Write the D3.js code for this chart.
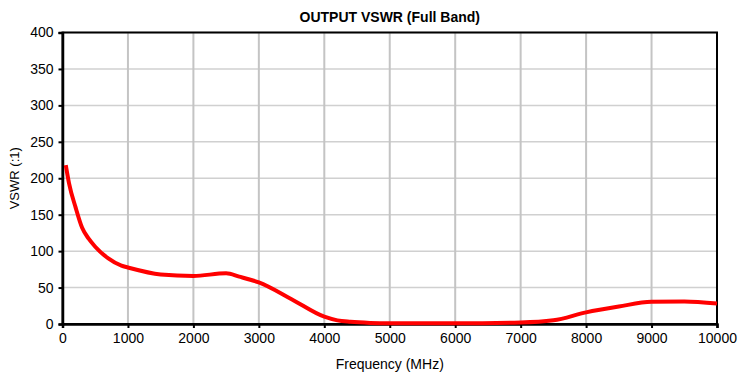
<!DOCTYPE html>
<html>
<head>
<meta charset="utf-8">
<script src="https://cdn.jsdelivr.net/npm/d3@7"></script>
<style>
  body { margin: 0; background: #fff; }
  text { font-family: "Liberation Sans", Arial, sans-serif; fill: #000; }
</style>
</head>
<body>
<div id="chart"></div>
<script>
// Frequency (MHz) and VSWR readings
const freq = [50, 100, 200, 300, 400, 500, 700, 900, 1000, 1500, 2000, 2500, 2700, 3000, 3500, 4000, 4200, 4400, 4700, 5000, 6000, 7000, 7500, 8000, 8500, 9000, 9500, 10000];
const vswr = [218, 193, 160, 132, 117, 106, 90, 80, 77.5, 68, 66, 69.5, 65, 57, 34, 10, 5, 3, 1.5, 1, 1, 2, 5, 16, 24, 30.5, 31, 28];

const xTicks = d3.range(0, 10001, 1000);
const yTicks = d3.range(0, 401, 50);

const data = freq.map((f, i) => ({ f: f, v: vswr[i] }));

const margin = { top: 32.5, right: 23, bottom: 51, left: 62.5 },
    width = 740 - margin.left - margin.right,
    height = 375 - margin.top - margin.bottom;

const svg = d3.select("#chart")
    .append("svg")
    .attr("width", 740)
    .attr("height", 375);

const g = svg.append("g")
    .attr("transform", `translate(${margin.left},${margin.top})`);

const x = d3.scaleLinear().domain([0, 10000]).range([0, width]);
const y = d3.scaleLinear().domain([0, 400]).range([height, 0]);

// gridlines
g.append("g")
    .selectAll("line")
    .data(yTicks.slice(1))
    .enter()
    .append("line")
    .attr("x1", 0).attr("x2", width)
    .attr("y1", d => y(d)).attr("y2", d => y(d))
    .style("stroke", "#d0d0d0")
    .style("stroke-width", 1.5);

g.append("g")
    .selectAll("line")
    .data(xTicks.slice(1))
    .enter()
    .append("line")
    .attr("y1", 0).attr("y2", height)
    .attr("x1", d => x(d)).attr("x2", d => x(d))
    .style("stroke", "#c4c4c4")
    .style("stroke-width", 2);

// frame
g.append("rect")
    .attr("width", width)
    .attr("height", height)
    .style("fill", "none")
    .style("stroke", "#000")
    .style("stroke-width", 2);

// axes
const xAxis = g.append("g")
    .attr("transform", `translate(0,${height})`)
    .call(d3.axisBottom(x).tickValues(xTicks).tickSize(4).tickPadding(5).tickFormat(d3.format("d")));

const yAxis = g.append("g")
    .call(d3.axisLeft(y).tickValues(yTicks).tickSize(4).tickPadding(5));

[xAxis, yAxis].forEach(a => {
    a.select(".domain").style("stroke", "#000").style("stroke-width", 2.5);
    a.selectAll(".tick line").style("stroke", "#000").style("stroke-width", 2);
    a.selectAll(".tick text").style("font-size", "14px").style("font-family", "Liberation Sans, Arial, sans-serif");
});

// line
const line = d3.line()
    .x(d => x(d.f))
    .y(d => y(d.v))
    .curve(d3.curveMonotoneX);

g.append("path")
    .datum(data)
    .attr("d", line)
    .style("fill", "none")
    .style("stroke", "#ff0000")
    .style("stroke-width", 4)
    .style("stroke-linejoin", "round");

// title and labels
svg.append("text")
    .attr("x", margin.left + width / 2)
    .attr("y", 22)
    .style("text-anchor", "middle")
    .style("font-size", "14px")
    .style("font-weight", "bold")
    .text("OUTPUT VSWR (Full Band)");

svg.append("text")
    .attr("x", margin.left + width / 2)
    .attr("y", 369)
    .style("text-anchor", "middle")
    .style("font-size", "14px")
    .text("Frequency (MHz)");

svg.append("text")
    .attr("transform", "rotate(-90)")
    .attr("x", -(margin.top + height / 2))
    .attr("y", 19)
    .style("text-anchor", "middle")
    .style("font-size", "13px")
    .text("VSWR (:1)");
</script>
</body>
</html>
